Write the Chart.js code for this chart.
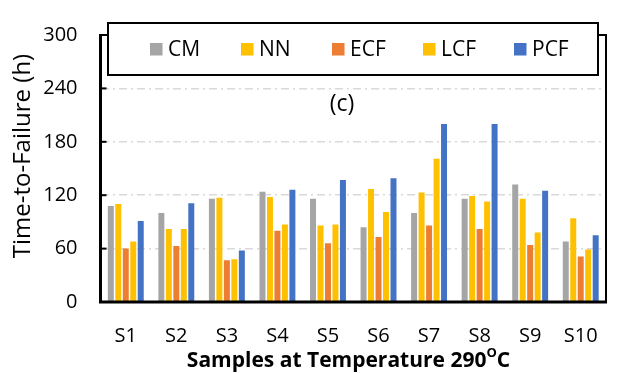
<!DOCTYPE html>
<html>
<head>
<meta charset="utf-8">
<script src="https://cdn.jsdelivr.net/npm/chart.js@4.4.1/dist/chart.umd.min.js"></script>
<style>
  html, body { margin: 0; padding: 0; background: #fff; }
</style>
</head>
<body>
<canvas id="ttfChart" width="621" height="373"></canvas>
<script>
// data (hours)
const samples = ["S1", "S2", "S3", "S4", "S5", "S6", "S7", "S8", "S9", "S10"];
const cmHours = [108, 100, 116, 124, 116, 84, 100, 116, 132, 68];
const nnHours = [110, 82, 117, 118, 86, 127, 123, 119, 116, 94];
const ecfHours = [60, 63, 47, 80, 66, 73, 86, 82, 64, 51];
const lcfHours = [68, 82, 48, 87, 87, 101, 161, 113, 78, 59];
const pcfHours = [91, 111, 58, 126, 137, 139, 200, 200, 125, 75];
const yTicks = [0, 60, 120, 180, 240, 300];

const fontFamily = "'Open Sans', sans-serif";

// frame, inward tick marks
const framePlugin = {
  id: "framePlugin",
  afterDatasetsDraw(chart) {
    const ctx = chart.ctx;
    const a = chart.chartArea;
    const yScale = chart.scales.y;
    ctx.save();
    ctx.strokeStyle = "#000";
    ctx.lineWidth = 2;
    ctx.beginPath();
    ctx.moveTo(a.left, a.top);
    ctx.lineTo(a.right, a.top);
    ctx.lineTo(a.right, a.bottom);
    ctx.stroke();

    for (let v of yTicks) {
      if (v === 0 || v === 300) continue;
      let y = yScale.getPixelForValue(v);
      ctx.beginPath();
      ctx.moveTo(a.left, y);
      ctx.lineTo(a.left + 6, y);
      ctx.stroke();
    }

    ctx.lineWidth = 3;
    ctx.beginPath();
    ctx.moveTo(a.left, a.top - 1);
    ctx.lineTo(a.left, a.bottom);
    ctx.lineTo(a.right + 1, a.bottom);
    ctx.stroke();
    ctx.restore();
  },
};

// boxed legend, panel label and axis titles
const labelsPlugin = {
  id: "labelsPlugin",
  afterDraw(chart) {
    const ctx = chart.ctx;
    ctx.save();

    ctx.fillStyle = "#fff";
    ctx.fillRect(108, 23, 490, 52);
    ctx.strokeStyle = "#000";
    ctx.lineWidth = 2;
    ctx.strokeRect(108, 23, 490, 52);

    ctx.font = "21px " + fontFamily;
    ctx.textBaseline = "alphabetic";
    ctx.textAlign = "left";
    chart.data.datasets.forEach((ds, i) => {
      let x = 150 + i * 91;
      ctx.fillStyle = ds.backgroundColor;
      ctx.fillRect(x, 43, 12.5, 12.5);
      ctx.fillStyle = "#000";
      ctx.fillText(ds.label, x + 18, 56);
    });

    ctx.textAlign = "center";
    ctx.textBaseline = "middle";
    ctx.font = "23px " + fontFamily;
    ctx.fillText("(c)", 342, 104);

    // y title
    ctx.save();
    ctx.translate(23, 156);
    ctx.rotate(-Math.PI / 2);
    ctx.font = "24px " + fontFamily;
    ctx.fillText("Time-to-Failure (h)", 0, 0);
    ctx.restore();

    // x title with superscript O
    const main = "Samples at Temperature 290";
    ctx.textBaseline = "alphabetic";
    ctx.font = "bold 21px " + fontFamily;
    const w1 = ctx.measureText(main).width;
    const w3 = ctx.measureText("C").width;
    ctx.font = "bold 13px " + fontFamily;
    const w2 = ctx.measureText("O").width;
    const total = w1 + w2 + w3;
    let x = 348.5 - total / 2;
    ctx.textAlign = "left";
    ctx.font = "bold 21px " + fontFamily;
    ctx.fillText(main, x, 366.5);
    ctx.font = "bold 13px " + fontFamily;
    ctx.fillText("O", x + w1, 357);
    ctx.font = "bold 21px " + fontFamily;
    ctx.fillText("C", x + w1 + w2, 366.5);

    ctx.restore();
  },
};

new Chart(document.getElementById("ttfChart"), {
  type: "bar",
  data: {
    labels: samples,
    datasets: [
      { label: "CM", data: cmHours, backgroundColor: "#A5A5A5" },
      { label: "NN", data: nnHours, backgroundColor: "#FFC000" },
      { label: "ECF", data: ecfHours, backgroundColor: "#ED7D31" },
      { label: "LCF", data: lcfHours, backgroundColor: "#FFC000" },
      { label: "PCF", data: pcfHours, backgroundColor: "#4472C4" },
    ],
  },
  options: {
    responsive: false,
    devicePixelRatio: 1,
    animation: false,
    categoryPercentage: 0.74,
    barPercentage: 0.8,
    layout: { padding: { top: 15, right: 15, left: 0, bottom: 0 } },
    plugins: {
      legend: { display: false },
      tooltip: { enabled: false },
    },
    scales: {
      x: {
        grid: { display: false },
        border: { display: false },
        ticks: {
          color: "#000",
          padding: 14,
          font: { family: fontFamily, size: 20 },
        },
        afterFit(scale) {
          scale.height = 71;
        },
      },
      y: {
        min: 0,
        max: 300,
        afterBuildTicks(scale) {
          scale.ticks = yTicks.map((v) => ({ value: v }));
        },
        grid: {
          drawTicks: false,
          lineWidth: 1.5,
          color: (c) =>
            c.tick && c.tick.value > 0 && c.tick.value < 300 ? "#D9D9D9" : "rgba(0,0,0,0)",
        },
        border: { display: false, dash: [8, 4, 2, 4] },
        ticks: {
          color: "#000",
          padding: 23,
          font: { family: fontFamily, size: 20 },
        },
        afterFit(scale) {
          scale.width = 100.5;
        },
      },
    },
  },
  plugins: [framePlugin, labelsPlugin],
});
</script>
</body>
</html>
